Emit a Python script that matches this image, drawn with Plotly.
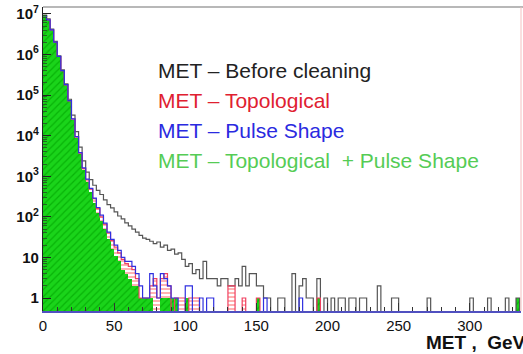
import plotly.graph_objects as go

# ---------------- data (counts per 2.5 GeV bin) ----------------
BIN_WIDTH = 2.5
N_BINS = 135  # 0 .. 337.5 GeV

# bins 0..47 (0-120 GeV)
black_dense = [9300000, 7600000, 4200000, 2100000, 930000, 420000, 190000, 79000,
               32000, 12600, 5200, 2400, 1260, 830, 600, 450, 355, 263, 200, 166,
               132, 105, 89, 71, 60, 50, 42, 35, 30, 28, 25, 22, 24, 18, 20, 15,
               16, 12, 13, 9, 6, 7, 4, 5, 3, 8, 3, 3]
black_tail_gev = [120, 122.5, 125, 127.5, 130, 132.5, 135, 137.5, 140, 142.5, 145, 147.5,
                  150, 152.5, 155, 157.5, 165, 167.5, 175, 180, 182.5, 185, 187.5, 192.5,
                  197.5, 202.5, 207.5, 210, 215, 217.5, 222.5, 225, 235, 245, 247.5, 270,
                  300, 312.5, 325, 332.5]
black_tail_cnt = [3, 2, 3, 3, 2, 2, 3, 2, 6, 2, 4, 4,
                  2, 2, 1, 1, 1, 1, 4, 2, 3, 1, 1, 3,
                  1, 1, 1, 1, 1, 1, 1, 1, 2, 1, 1, 1,
                  1, 1, 1, 1]

red_dense = [9040000, 7140000, 4010000, 2005000, 893000, 401000, 179000, 72000,
             25500, 9300, 3700, 1550, 820, 480, 280, 160, 100, 66, 40, 26,
             18, 13, 9, 7, 6, 5, 3, 1, 1, 1, 2, 3, 1, 3, 4, 2,
             0, 1, 1, 1, 0, 1, 1, 1, 0, 0, 0, 0]
red_tail_gev = [130, 132.5, 140, 150, 192.5]
red_tail_cnt = [2, 2, 1, 1, 1]

blue_dense = [9050000, 7150000, 4020000, 2010000, 895000, 402000, 180000, 73000,
              26000, 9500, 3800, 1600, 850, 500, 290, 170, 110, 70, 42, 28,
              20, 15, 10, 8, 8, 6, 4, 2, 1, 1, 4, 2, 1, 4, 3, 2,
              1, 1, 0, 0, 2, 2, 0, 0, 1, 0, 1, 1]
blue_tail_gev = [155, 180]
blue_tail_cnt = [1, 1]

green_dense = [9000000, 7100000, 4000000, 2000000, 890000, 400000, 178000, 71000,
               25000, 8900, 3500, 1400, 710, 400, 224, 126, 79, 50, 28, 16,
               11, 8, 5, 4, 3, 2, 2, 1, 1, 1, 1, 0, 0, 1, 1, 1,
               1, 1, 0, 0, 1, 0, 0, 0, 0, 0, 0, 0]
green_tail_gev = [150, 192.5, 332.5]
green_tail_cnt = [1, 1, 1]

legend_labels = ["MET \u2013 Before cleaning", "MET \u2013 Topological",
                 "MET \u2013 Pulse Shape", "MET \u2013 Topological  + Pulse Shape"]
x_ticks = [0, 50, 100, 150, 200, 250, 300]
y_ticks = [1, 10, 100, 1e3, 1e4, 1e5, 1e6, 1e7]
y_ticktext = ["1", "10", "10<sup>2</sup>", "10<sup>3</sup>", "10<sup>4</sup>",
              "10<sup>5</sup>", "10<sup>6</sup>", "10<sup>7</sup>"]


def full_counts(dense, tail_gev, tail_cnt):
    c = list(dense) + [0] * (N_BINS - len(dense))
    for e, v in zip(tail_gev, tail_cnt):
        c[int(round(e / BIN_WIDTH))] = v
    return c


black = full_counts(black_dense, black_tail_gev, black_tail_cnt)
red = full_counts(red_dense, red_tail_gev, red_tail_cnt)
blue = full_counts(blue_dense, blue_tail_gev, blue_tail_cnt)
green = full_counts(green_dense, green_tail_gev, green_tail_cnt)

edges = [i * BIN_WIDTH for i in range(N_BINS + 1)]
centers = [(i + 0.5) * BIN_WIDTH for i in range(N_BINS)]
FLOOR = 0.05  # empty bins drawn below visible range


def step(counts):
    ys = [v if v > 0 else FLOOR for v in counts]
    return edges, ys + [ys[-1]]


def bars(counts):
    return [v if v > 0 else None for v in counts]


fig = go.Figure()

# red hatched fill
fig.add_trace(go.Bar(x=centers, y=bars(red), width=BIN_WIDTH,
                     marker=dict(color="rgba(255,255,255,0)", line=dict(width=0),
                                 pattern=dict(shape="-", fgcolor="#ff9090", size=4,
                                              solidity=0.35, bgcolor="rgba(255,255,255,0)",
                                              fillmode="replace")),
                     hoverinfo="skip", showlegend=False))
# green hatched fill
fig.add_trace(go.Bar(x=centers, y=bars(green), width=BIN_WIDTH,
                     marker=dict(color="#1ad41a", line=dict(width=0),
                                 pattern=dict(shape="/", fgcolor="#08b408", size=5,
                                              solidity=0.25, bgcolor="#1ad41a",
                                              fillmode="replace")),
                     hoverinfo="skip", showlegend=False))

for counts, col, w in [(black, "#555555", 1.2), (red, "#f04060", 1.2), (blue, "#3030e0", 1.2)]:
    xs, ys = step(counts)
    fig.add_trace(go.Scatter(x=xs, y=ys, mode="lines", line=dict(color=col, width=w, shape="hv"),
                             hoverinfo="skip", showlegend=False))

legend_colors = ["#222222", "#e02030", "#2a2ae0", "#55cc55"]
for i, (txt, col) in enumerate(zip(legend_labels, legend_colors)):
    fig.add_annotation(xref="paper", yref="paper", x=(156 - 43) / 478, y=1 - (70 + 30 * i - 7) / 304,
                       xanchor="left", yanchor="middle", text=txt, showarrow=False,
                       font=dict(family="Liberation Sans, Arial", size=21, color=col))

fig.add_annotation(xref="paper", yref="paper", x=(424 - 43) / 478, y=-(342 - 311) / 304,
                   xanchor="left", yanchor="middle", text="<b>MET ,  GeV</b>", showarrow=False,
                   font=dict(family="Liberation Sans, Arial", size=19, color="#111"))

# frame lines top and right
fig.add_shape(type="line", xref="paper", yref="paper", x0=0, x1=1.01, y0=1, y1=1,
              line=dict(color="#a0a0a0", width=1.5))
fig.add_shape(type="line", xref="paper", yref="paper", x0=1, x1=1, y0=0, y1=1,
              line=dict(color="#f4c0c0", width=1))

minor_y = [k * 10 ** d for d in range(0, 7) for k in range(2, 10)]

fig.update_layout(
    width=523, height=354,
    margin=dict(l=43, r=2, t=7, b=43),
    paper_bgcolor="white", plot_bgcolor="white",
    barmode="overlay", bargap=0,
    font=dict(family="Liberation Sans, Arial", color="#111"),
    xaxis=dict(range=[0, 336], tickvals=x_ticks, ticks="inside", ticklen=8, tickcolor="#333",
               tickfont=dict(size=15, family="Liberation Sans, Arial", color="#111"),
               tickprefix="<b>", ticksuffix="</b>",
               showgrid=False, zeroline=False, showline=True, linecolor="#5050c0", linewidth=1.5,
               minor=dict(dtick=10, ticks="inside", ticklen=4, tickcolor="#333", showgrid=False)),
    yaxis=dict(type="log", range=[-0.32, 7.17], tickvals=y_ticks, ticktext=["<b>" + t + "</b>" for t in y_ticktext],
               ticks="inside", ticklen=8, tickcolor="#222",
               tickfont=dict(size=15, family="Liberation Sans, Arial", color="#111"),
               showgrid=False, zeroline=False, showline=True, linecolor="#222", linewidth=1.2,
               minor=dict(tickvals=minor_y, ticks="inside", ticklen=4, tickcolor="#226622", showgrid=False)),
)

fig.write_html("out.html")
